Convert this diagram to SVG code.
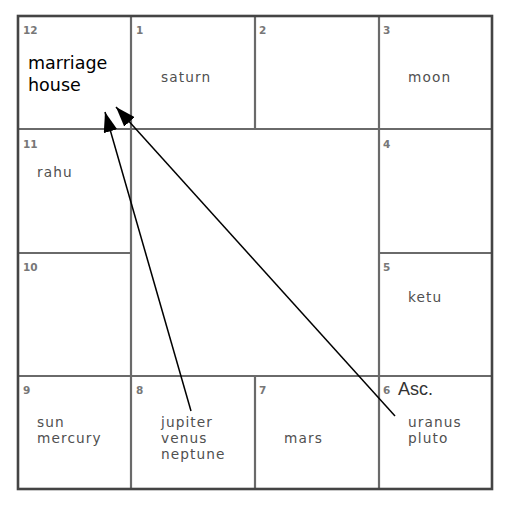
<svg xmlns="http://www.w3.org/2000/svg" width="505" height="505" viewBox="0 0 505 505">
<style>
.grid{stroke:#6a6a6a;stroke-width:2.2;fill:none}
.border{stroke:#444;stroke-width:2.6;fill:none}
.num{font-family:"DejaVu Sans",sans-serif;font-size:10.5px;font-weight:bold;fill:#777}
.pl{font-family:"DejaVu Sans",sans-serif;font-size:13.7px;letter-spacing:1.1px;fill:#505050}
.big{font-family:"DejaVu Sans",sans-serif;font-size:17.5px;fill:#000}
.asc{font-family:"Liberation Sans",Arial,sans-serif;font-size:18px;fill:#333}
.conn{stroke:#000;stroke-width:1.5;fill:none;marker-end:url(#ah)}
</style>
<defs>
<marker id="ah" viewBox="0 0 20 14" refX="20" refY="7" markerWidth="20" markerHeight="14" markerUnits="userSpaceOnUse" orient="auto">
<path d="M0,0 L20,7 L0,14 Z" fill="#000"/>
</marker>
</defs>
<rect width="505" height="505" fill="#fff"/>
<g id="grid">
<path class="grid" d="M18,129 H492 M18,376 H492 M18,253 H131 M379,253 H492 M131,16 V489 M379,16 V489 M255,16 V129 M255,376 V489"/>
<rect class="border" x="18" y="16" width="474" height="473"/>
</g>
<g id="h12"><text class="num" x="23" y="34">12</text><text class="big" x="28" y="69">marriage</text><text class="big" x="28" y="91">house</text></g>
<g id="h1"><text class="num" x="136" y="34">1</text><text class="pl" x="161" y="82">saturn</text></g>
<g id="h2"><text class="num" x="259" y="34">2</text></g>
<g id="h3"><text class="num" x="383" y="34">3</text><text class="pl" x="408" y="82">moon</text></g>
<g id="h11"><text class="num" x="23" y="148">11</text><text class="pl" x="37" y="177">rahu</text></g>
<g id="h4"><text class="num" x="383" y="148">4</text></g>
<g id="h10"><text class="num" x="23" y="271">10</text></g>
<g id="h5"><text class="num" x="383" y="271">5</text><text class="pl" x="408" y="302">ketu</text></g>
<g id="h9"><text class="num" x="23" y="394">9</text><text class="pl" x="37" y="427">sun</text><text class="pl" x="37" y="443">mercury</text></g>
<g id="h8"><text class="num" x="136" y="394">8</text><text class="pl" x="161" y="427">jupiter</text><text class="pl" x="161" y="443">venus</text><text class="pl" x="161" y="459">neptune</text></g>
<g id="h7"><text class="num" x="259" y="394">7</text><text class="pl" x="284" y="443">mars</text></g>
<g id="h6"><text class="num" x="383" y="394">6</text><text class="asc" x="398" y="395">Asc.</text><text class="pl" x="408" y="427">uranus</text><text class="pl" x="408" y="443">pluto</text></g>
<g id="connectors">
<line class="conn" x1="191" y1="411" x2="105" y2="112"/>
<line class="conn" x1="395" y1="416" x2="116" y2="107"/>
</g>
</svg>
